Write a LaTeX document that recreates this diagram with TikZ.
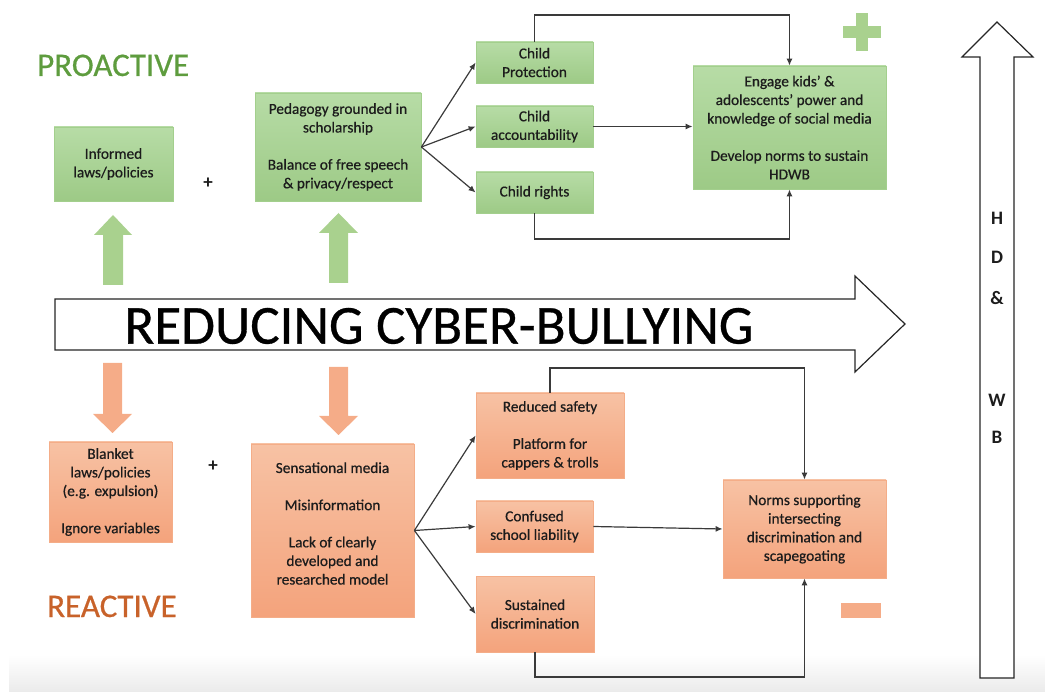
\documentclass[tikz,border=0pt]{standalone}
\usepackage{fontspec}
\setmainfont{Carlito}
\newfontfamily\heavyfont{Carlito}[FakeBold=0.6]
\usetikzlibrary{arrows.meta}

\definecolor{gTop}{HTML}{B7DCA6}
\definecolor{gBot}{HTML}{9DCA86}
\definecolor{gLine}{HTML}{A3CF8D}
\definecolor{gArrow}{HTML}{A9D18E}
\definecolor{gText}{HTML}{5E9C3E}
\definecolor{oTop}{HTML}{F7C2A4}
\definecolor{oBot}{HTML}{F4A37C}
\definecolor{oLine}{HTML}{F4AD88}
\definecolor{oArrow}{HTML}{F5AC88}
\definecolor{oText}{HTML}{C8622A}
\definecolor{ink}{HTML}{1C1C1C}
\definecolor{wire}{HTML}{3A3A3A}

\tikzset{
  boxtext/.style={font=\heavyfont\fontsize{15.3}{18.6}\selectfont, text=ink, align=center, inner sep=0pt},
  gbox/.style={boxtext, draw=gLine, line width=0.8pt, top color=gTop, bottom color=gBot},
  obox/.style={boxtext, draw=oLine, line width=0.8pt, top color=oTop, bottom color=oBot},
  conn/.style={draw=wire, line width=1.2pt, -{Latex[length=7pt,width=6pt]}},
  hollow/.style={draw=black!85, line width=1.2pt, fill=white, line join=miter},
  letter/.style={font=\fontsize{19}{22}\bfseries, text=ink, inner sep=0pt},
  plussign/.style={font=\fontsize{19}{22}\bfseries, text=ink, inner sep=0pt},
  heading/.style={anchor=base west, inner sep=0pt, font=\heavyfont\fontsize{33}{38}\selectfont}
}

\begin{document}
\begin{tikzpicture}[x=1pt,y=-1pt]
\useasboundingbox (0,0) rectangle (1045,692);

% faint shadow band along the bottom edge
\shade[top color=white, bottom color=black!8] (9,655) rectangle (1045,692);

% ---- headings ----
\node[heading, text=gText] (pro) at (37,76) {PROACTIVE};
\node[heading, text=oText] (rea) at (47,617) {REACTIVE};

% ---- main horizontal arrow ----
\draw[hollow] (55,299) -- (855,299) -- (855,276) -- (905,324) -- (855,372) -- (855,350) -- (55,350) -- cycle;
\node[inner sep=0pt, text=black, font=\heavyfont\fontsize{55}{60}\selectfont] (title) at (439,326) {REDUCING CYBER-BULLYING};

% ---- vertical HD & WB arrow ----
\draw[hollow] (980,678) -- (980,57) -- (962,57) -- (997,22) -- (1033,57) -- (1014,57) -- (1014,678) -- cycle;
\node[letter] (lh) at (997,218) {H};
\node[letter] (ld) at (997,257) {D};
\node[letter] (lamp) at (997,298) {\&};
\node[letter] (lw) at (997,400) {W};
\node[letter] (lb) at (997,437) {B};

% ---- block arrows up (green) and down (orange) ----
\fill[gArrow] (103,285) -- (103,235) -- (94,235) -- (113,215) -- (132,235) -- (123,235) -- (123,285) -- cycle;
\fill[gArrow] (329,283) -- (329,233) -- (319,233) -- (338.5,213) -- (358,233) -- (348,233) -- (348,283) -- cycle;
\fill[oArrow] (103,363) -- (103,414) -- (93,414) -- (112.5,433) -- (132,414) -- (122,414) -- (122,363) -- cycle;
\fill[oArrow] (329,367) -- (329,416) -- (319,416) -- (338.5,435) -- (358,416) -- (348,416) -- (348,367) -- cycle;

% ---- plus / minus markers ----
\fill[gArrow] (856,13) rectangle (868,51);
\fill[gArrow] (843,26) rectangle (881,38);
\fill[oArrow] (841,603) rectangle (881,618);

% ---- proactive boxes ----
\node[gbox, minimum width=119pt, minimum height=74pt] (inf) at (113.5,164) {Informed\\laws/policies};
\node[plussign] (p1) at (208,183) {+};
\node[gbox, minimum width=166pt, minimum height=108pt] (ped) at (338,147)
  {Pedagogy grounded in\\scholarship\\[18.6pt]Balance of free speech\\\& privacy/respect};
\node[gbox, minimum width=117pt, minimum height=41pt] (cp) at (534.5,62.5) {Child\\Protection};
\node[gbox, minimum width=117pt, minimum height=41pt] (ca) at (534.5,126.5) {Child\\accountability};
\node[gbox, minimum width=117pt, minimum height=41pt] (cr) at (534.5,192.5) {Child rights};
\node[gbox, minimum width=193pt, minimum height=123pt] (eng) at (789.5,127.5)
  {Engage kids’ \&\\adolescents’ power and\\knowledge of social media\\[18.6pt]Develop norms to sustain\\HDWB};

% ---- reactive boxes ----
\node[obox, minimum width=123pt, minimum height=100pt] (bl) at (110.5,492)
  {Blanket\\laws/policies\\(e.g. expulsion)\\[18.6pt]Ignore variables};
\node[plussign] (p2) at (213,466) {+};
\node[obox, minimum width=163pt, minimum height=173pt] (sens) at (332.5,530.5) {};
\node[boxtext] (senstext) at ([yshift=7pt]sens.center)
  {Sensational media\\[18.6pt]Misinformation\\[18.6pt]Lack of clearly\\developed and\\researched model};
\node[obox, minimum width=148pt, minimum height=85pt] (rs) at (550,435.5)
  {Reduced safety\\[18.6pt]Platform for\\cappers \& trolls};
\node[obox, minimum width=117pt, minimum height=51pt] (cl) at (534.5,526.5) {Confused\\school liability};
\node[obox, minimum width=118pt, minimum height=76pt] (sd) at (535,614) {Sustained\\discrimination};
\node[obox, minimum width=163pt, minimum height=98pt] (nrm) at (804.5,529)
  {Norms supporting\\intersecting\\discrimination and\\scapegoating};

% ---- routing levels for the elbow connectors ----
\coordinate (topline) at (0,15);
\coordinate (midline) at (0,239);
\coordinate (lowtop) at (0,368);
\coordinate (lowbot) at (0,677);

% ---- proactive connectors ----
\draw[conn] (ped.east) -- (cp.west);
\draw[conn] (ped.east) -- (ca.west);
\draw[conn] (ped.east) -- (cr.west);
\draw[conn] (cp.north) -- (cp.north |- topline) -- (eng.north |- topline) -- (eng.north);
\draw[conn] (ca.east) -- (ca.east -| eng.west);
\draw[conn] (cr.south) -- (cr.south |- midline) -- (eng.south |- midline) -- (eng.south);

% ---- reactive connectors ----
\draw[conn] (sens.east) -- (rs.west);
\draw[conn] (sens.east) -- (cl.west);
\draw[conn] (sens.east) -- (sd.west);
\draw[conn] (rs.north) -- (rs.north |- lowtop) -- (nrm.north |- lowtop) -- (nrm.north);
\draw[conn] (cl.east) -- (nrm.west);
\draw[conn] (sd.south) -- (sd.south |- lowbot) -- (nrm.south |- lowbot) -- (nrm.south);
\end{tikzpicture}
\end{document}
